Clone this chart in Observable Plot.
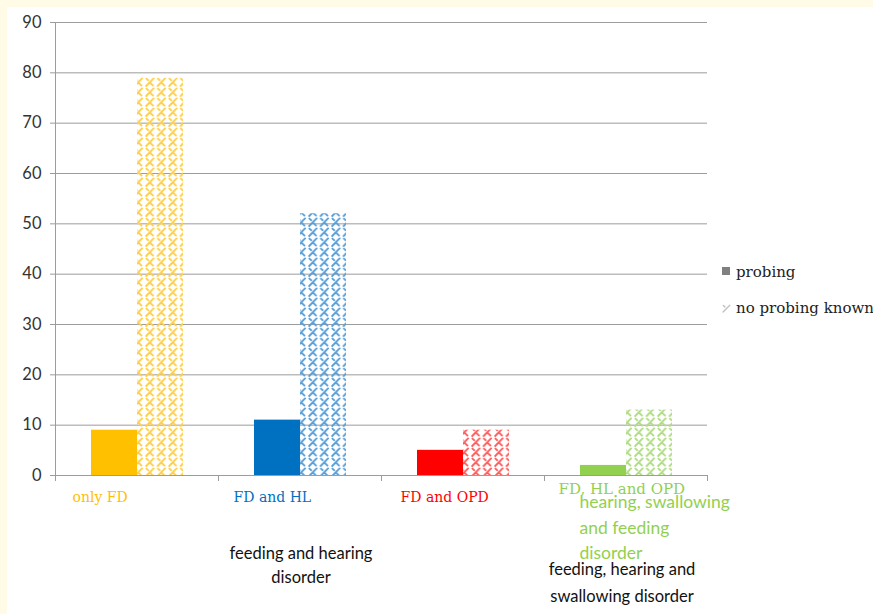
<!DOCTYPE html>
<html>
<head>
<meta charset="utf-8">
<script src="https://cdn.jsdelivr.net/npm/d3@7"></script>
<script src="https://cdn.jsdelivr.net/npm/@observablehq/plot@0.6"></script>
<style>
  html, body { margin: 0; padding: 0; background: #fffbe6; }
  #page { position: relative; width: 873px; height: 614px; overflow: hidden; background: #fffbe6; }
  #panel { position: absolute; left: 7px; top: 7px; width: 866px; height: 607px; background: #ffffff; }
  #panel svg { display: block; overflow: visible; }
</style>
</head>
<body>
<div id="page"><div id="panel"></div></div>
<script>
// Groups of children and the number of cases per group
const categories = ["only FD", "FD and HL", "FD and OPD", "FD, HL and OPD"];
const series = ["probing", "no probing known"];
const probing = [9, 11, 5, 2];
const noProbingKnown = [79, 52, 9, 13];
const yTicks = [0, 10, 20, 30, 40, 50, 60, 70, 80, 90];

const groupColors = ["#FFC000", "#0070C0", "#FF0000", "#92D050"];
const hatchColors = ["#FFCF4A", "#5A9FD8", "#FF5E5E", "#B0DC84"];

// Motif of the hatch fill: a long rising stroke with a short falling branch
const motif = "M1.2,9 L8.6,1.4 M4.6,5.3 L8,8.6 M1.4,1.6 L3.2,3.2";

const defs = d3.select("body").append("svg")
  .attr("width", 0).attr("height", 0)
  .style("position", "absolute")
  .append("defs");

function addHatch(id, color) {
  const p = defs.append("pattern")
    .attr("id", id)
    .attr("patternUnits", "userSpaceOnUse")
    .attr("width", 11.5).attr("height", 10);
  p.append("path")
    .attr("d", motif)
    .attr("fill", "none")
    .attr("stroke", color)
    .attr("stroke-width", 1.9)
    .attr("stroke-linecap", "round");
}
hatchColors.forEach((c, i) => addHatch(`hatch-${i}`, c));

const data = categories.flatMap((c, i) => [
  {category: c, series: series[0], value: probing[i], fill: groupColors[i]},
  {category: c, series: series[1], value: noProbingKnown[i], fill: `url(#hatch-${i})`}
]);

const serif = "DejaVu Serif";
const sans = "Lato";

function label(i, text, options) {
  return Plot.text([{category: categories[i], text}], {
    fx: "category",
    text: "text",
    frameAnchor: "bottom-left",
    textAnchor: "start",
    ...options
  });
}

const chart = Plot.plot({
  width: 866,
  height: 607,
  marginLeft: 48,
  marginRight: 166,
  marginTop: 15,
  marginBottom: 139,
  style: {background: "transparent", fontFamily: sans, overflow: "visible"},
  fx: {domain: categories, padding: 0, axis: null},
  x: {domain: series, paddingInner: 0, paddingOuter: 0.77, axis: null},
  y: {domain: [0, 90], axis: null},
  color: {type: "identity"},
  marks: [
    Plot.gridY(yTicks, {stroke: "#9c9c9c", strokeOpacity: 1, strokeWidth: 1}),
    Plot.axisY(yTicks, {
      tickSize: 5, tickPadding: 9, fontSize: 16.5, fill: "#333",
      stroke: "#9c9c9c", strokeOpacity: 1, tickFormat: d => `${d}`, label: null
    }),
    Plot.barY(data, {fx: "category", x: "series", y: "value", fill: "fill"}),

    // category names under each group
    label(0, "only FD", {dx: 17, dy: 26, fill: groupColors[0], fontFamily: serif, fontSize: 14}),
    label(1, "FD and HL", {dx: 15, dy: 26, fill: groupColors[1], fontFamily: serif, fontSize: 14}),
    label(2, "FD and OPD", {dx: 19, dy: 26, fill: groupColors[2], fontFamily: serif, fontSize: 14}),
    label(3, "FD, HL and OPD", {dx: 14, dy: 18, fill: groupColors[3], fontFamily: serif, fontSize: 15}),

    // descriptive names
    label(3, "hearing, swallowing\nand feeding\ndisorder", {
      dx: 35, dy: 50, lineAnchor: "middle", lineHeight: 1.43,
      fill: groupColors[3], fontFamily: sans, fontSize: 17.5
    }),
    label(1, "feeding and hearing\ndisorder", {
      frameAnchor: "bottom", textAnchor: "middle", dx: 1, dy: 88,
      lineAnchor: "middle", lineHeight: 1.45, fill: "#111", fontFamily: sans, fontSize: 16.5
    }),
    label(3, "feeding, hearing and\nswallowing disorder", {
      frameAnchor: "bottom", textAnchor: "middle", dx: -4, dy: 104,
      lineAnchor: "middle", lineHeight: 1.68, fill: "#111", fontFamily: sans, fontSize: 16.5
    })
  ]
});

document.getElementById("panel").appendChild(chart);

// Vertical axis line and category boundary ticks, placed with the chart's scales
const svg = d3.select(chart);
const fx = chart.scale("fx");
const y = chart.scale("y");
const yTop = y.apply(90), yBottom = y.apply(0);
const bounds = categories.map(c => fx.apply(c)).concat(fx.apply(categories[categories.length - 1]) + fx.bandwidth);
const lines = svg.append("g").attr("stroke", "#9c9c9c").attr("stroke-width", 1);
bounds.forEach((bx, i) => {
  lines.append("line")
    .attr("x1", bx + 0.5).attr("x2", bx + 0.5)
    .attr("y1", i === 0 ? yTop : yBottom).attr("y2", yBottom + 6);
});

// Legend
const legend = svg.append("g")
  .attr("font-family", serif).attr("font-size", 15).attr("fill", "#222")
  .attr("text-anchor", "start");
legend.append("rect").attr("x", 715).attr("y", 260).attr("width", 8).attr("height", 8).attr("fill", "#808080");
legend.append("text").attr("x", 729).attr("y", 265).attr("dy", "0.32em").text(series[0]);
legend.append("path")
  .attr("transform", "translate(715,297) scale(0.9)")
  .attr("d", "M1.2,9 L8.6,1.4 M1.4,1.6 L3.2,3.2")
  .attr("fill", "none").attr("stroke", "#c2c2c2").attr("stroke-width", 1.6).attr("stroke-linecap", "round");
legend.append("text").attr("x", 729).attr("y", 301).attr("dy", "0.32em").text(series[1]);
</script>
</body>
</html>
